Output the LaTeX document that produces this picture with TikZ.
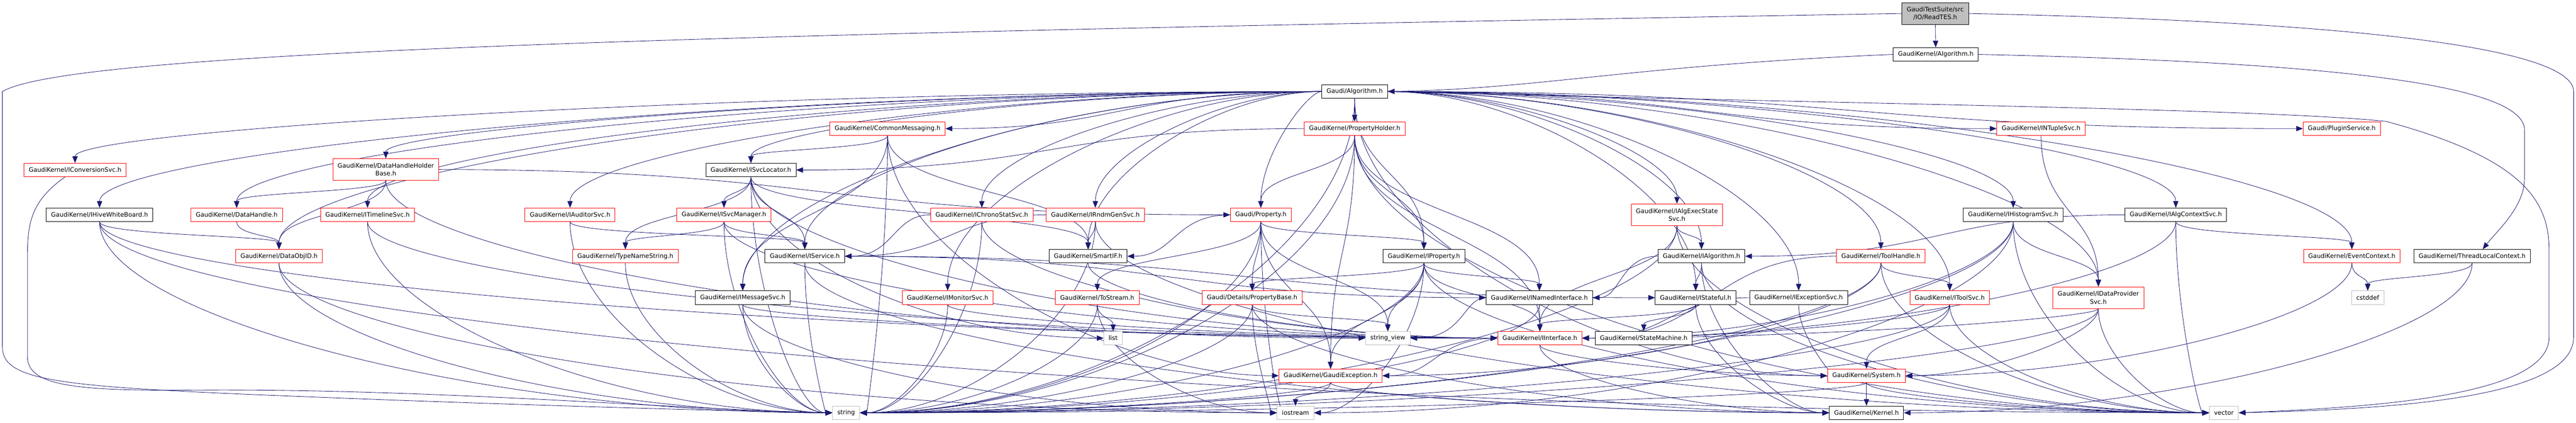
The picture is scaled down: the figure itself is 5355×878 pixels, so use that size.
\documentclass[tikz,border=0pt]{standalone}
\usepackage{fontspec}
\setmainfont{DejaVu Sans}
\usetikzlibrary{arrows.meta,calc}
\definecolor{eb}{HTML}{191970}
\definecolor{gbox}{HTML}{BFBFBF}
\pgfdeclarelayer{bg}
\pgfsetlayers{bg,main}
\newcommand\EV[2]{\draw[e] let \p1=(#1), \p2=(#2) in (#1) .. controls (\x1,{0.5*\y1+0.5*\y2}) and (\x2,{0.5*\y1+0.5*\y2}) .. (#2);}
\newcommand\EH[2]{\draw[e] let \p1=(#1), \p2=(#2) in (#1) .. controls ({0.5*\x1+0.5*\x2},\y1) and (\x2,{0.5*\y1+0.5*\y2}) .. (#2);}
\newcommand\EB[2]{\draw[e] let \p1=(#1), \p2=(#2) in (#1) .. controls (\x1,{0.5*\y1+0.5*\y2}) and ({0.5*\x1+0.5*\x2},\y2) .. (#2);}
\newcommand\ES[2]{\draw[e] let \p1=(#1), \p2=(#2) in (#1) .. controls ({0.5*\x1+0.5*\x2},\y1) and ({0.5*\x1+0.5*\x2},\y2) .. (#2);}
\begin{document}
\begin{tikzpicture}[x=1pt,y=-1pt,
  font=\fontsize{12.8pt}{16.7pt}\selectfont,
  box/.style={draw, line width=1pt, inner xsep=10pt, inner ysep=0pt, minimum height=28pt, fill=white, align=center},
  rbox/.style={box, draw=red},
  kbox/.style={box, draw=black},
  gbx/.style={box, draw=gbox},
  two/.style={minimum height=45pt},
  e/.style={draw=eb, line width=0.9pt, -{Triangle[length=14pt,width=11pt]}}]
\useasboundingbox (0,0) rectangle (5355,878);
% row 0-2
\node[kbox,two,fill=gbox] (A) at (4023,28) {GaudiTestSuite/src\\/IO/ReadTES.h};
\node[kbox] (B) at (4024,113) {GaudiKernel/Algorithm.h};
\node[kbox] (C) at (2816,190) {Gaudi/Algorithm.h};
% row 3
\node[rbox] (CM) at (1845,267) {GaudiKernel/CommonMessaging.h};
\node[rbox] (PH) at (2816,267) {GaudiKernel/PropertyHolder.h};
\node[rbox] (NT) at (4243,267) {GaudiKernel/INTupleSvc.h};
\node[rbox] (PS) at (4868,267) {Gaudi/PluginService.h};
% row 4
\node[rbox] (ICS) at (156,353) {GaudiKernel/IConversionSvc.h};
\node[rbox,two] (DHH) at (802,352) {GaudiKernel/DataHandleHolder\\Base.h};
\node[kbox] (SL) at (1561,353) {GaudiKernel/ISvcLocator.h};
% row 5
\node[kbox] (HWB) at (207,446) {GaudiKernel/IHiveWhiteBoard.h};
\node[rbox] (DH) at (492,446) {GaudiKernel/DataHandle.h};
\node[rbox] (TL) at (764,446) {GaudiKernel/ITimelineSvc.h};
\node[rbox] (AUD) at (1185,446) {GaudiKernel/IAuditorSvc.h};
\node[rbox] (SM) at (1505,446) {GaudiKernel/ISvcManager.h};
\node[rbox] (CS) at (2041,446) {GaudiKernel/IChronoStatSvc.h};
\node[rbox] (RG) at (2277,446) {GaudiKernel/IRndmGenSvc.h};
\node[rbox] (PR) at (2621,446) {Gaudi/Property.h};
\node[rbox,two] (AES) at (3486,446) {GaudiKernel/IAlgExecState\\Svc.h};
\node[kbox] (HS) at (4185,446) {GaudiKernel/IHistogramSvc.h};
\node[kbox] (ACS) at (4523,446) {GaudiKernel/IAlgContextSvc.h};
% row 6
\node[rbox] (DOI) at (580,532) {GaudiKernel/DataObjID.h};
\node[rbox] (TNS) at (1300,532) {GaudiKernel/TypeNameString.h};
\node[kbox] (SRV) at (1673,532) {GaudiKernel/IService.h};
\node[kbox] (SIF) at (2262,532) {GaudiKernel/SmartIF.h};
\node[kbox] (IP) at (2960,532) {GaudiKernel/IProperty.h};
\node[kbox] (IA) at (3537,532) {GaudiKernel/IAlgorithm.h};
\node[rbox] (TH) at (3910,532) {GaudiKernel/ToolHandle.h};
\node[rbox] (EC) at (4889,532) {GaudiKernel/EventContext.h};
\node[kbox] (TLC) at (5139,532) {GaudiKernel/ThreadLocalContext.h};
% row 7
\node[kbox] (MS) at (1544,618) {GaudiKernel/IMessageSvc.h};
\node[rbox] (MON) at (1970,618) {GaudiKernel/IMonitorSvc.h};
\node[rbox] (TS) at (2281,618) {GaudiKernel/ToStream.h};
\node[rbox] (PB) at (2603,618) {Gaudi/Details/PropertyBase.h};
\node[kbox] (NI) at (3200,618) {GaudiKernel/INamedInterface.h};
\node[kbox] (ST) at (3525,618) {GaudiKernel/IStateful.h};
\node[kbox] (ES) at (3739,618) {GaudiKernel/IExceptionSvc.h};
\node[rbox] (TSV) at (4053,618) {GaudiKernel/IToolSvc.h};
\node[rbox,two] (DP) at (4362,618) {GaudiKernel/IDataProvider\\Svc.h};
\node[gbx] (CSTD) at (4922,618) {cstddef};
% row 8
\node[gbx] (LST) at (2314,702) {list};
\node[gbx] (SV) at (2885,702) {string\_view};
\node[rbox] (II) at (3201,702) {GaudiKernel/IInterface.h};
\node[kbox] (SMC) at (3417,702) {GaudiKernel/StateMachine.h};
% row 9
\node[rbox] (GE) at (2766,780) {GaudiKernel/GaudiException.h};
\node[rbox] (SYS) at (3880,780) {GaudiKernel/System.h};
% row 10
\node[gbx] (STR) at (1759,857) {string};
\node[gbx] (IOS) at (2693,857) {iostream};
\node[kbox] (KER) at (3880,857) {GaudiKernel/Kernel.h};
\node[gbx] (VEC) at (4623,857) {vector};

\begin{pgfonlayer}{bg}
% custom long edges
\draw[e] (A) -- (B);
\draw[e] (A.west) .. controls (1500,70) and (150,105) .. (5,190) -- (5,720) .. controls (5,800) and (150,805) .. (800,830) .. controls (1300,848) and (1600,855) .. (STR.west);
\draw[e] (A.east) .. controls (4900,45) and (5350,100) .. (5350,190) -- (5350,700) .. controls (5350,830) and (4950,850) .. (VEC.east);
\draw[e] (B.west) .. controls (3400,135) and (3200,185) .. (C.east);
\draw[e] (B.east) .. controls (4800,128) and (5248,170) .. (5248,270) -- (5248,370) .. controls (5248,430) and (5190,480) .. ($(TLC.north)+(22,0)$);
\draw[e] (C.east) .. controls (3800,215) and (4700,225) .. (4960,252) .. controls (5250,330) and (5299,420) .. (5299,520) -- (5299,700) .. controls (5299,820) and (4950,845) .. (VEC.east);
\draw[e] (ICS) .. controls (60,420) and (57,470) .. (57,540) -- (57,740) .. controls (57,800) and (150,812) .. (400,810) .. controls (900,806) and (1400,850) .. (STR.west);
% Gaudi/Algorithm.h
\EV{C}{PH} \EV{C}{IP} \ES{C}{CM}
\EH{C}{ICS} \EH{C}{HWB} \EH{C}{DOI} \EH{C}{DH} \EH{C}{DHH} \EH{C}{TL}
\EH{C}{AUD} \EH{C}{SL} \EH{C}{SRV} \EH{C}{CS} \EH{C}{RG} \EH{C}{PR}
\EH{C}{MS} \EH{C}{MON} \EH{C}{SIF} \EB{C}{STR}
\EH{C}{AES} \EH{C}{IA} \EH{C}{ST} \EH{C}{ES} \EH{C}{TH} \EH{C}{TSV}
\EH{C}{HS} \EH{C}{DP} \EH{C}{ACS} \EH{C}{EC} \ES{C}{NT} \ES{C}{PS} \EB{C}{SYS}
% CommonMessaging
\EV{CM}{SL} \EV{CM}{MS} \EV{CM}{SIF} \EB{CM}{GE} \EB{CM}{STR}
% PropertyHolder
\EV{PH}{PR} \EV{PH}{IP} \EV{PH}{NI} \EV{PH}{II} \ES{PH}{SL} \EB{PH}{STR} \EB{PH}{VEC} \EV{PH}{GE}
% ISvcLocator
\EV{SL}{SM} \EV{SL}{TNS} \EV{SL}{SIF} \EB{SL}{STR} \EB{SL}{LST} \EB{SL}{II} \EV{SL}{SRV}
% ISvcManager, TypeNameString, IAuditorSvc
\EV{SM}{TNS} \EV{SM}{SRV} \EB{SM}{STR} \EB{SM}{II}
\EB{TNS}{STR}
\EV{AUD}{SRV} \EB{AUD}{STR}
% IService, IMessageSvc
\EB{SRV}{STR} \ES{SRV}{NI} \ES{SRV}{ST} \EB{SRV}{KER}
\EB{MS}{STR} \EB{MS}{IOS} \EB{MS}{II}
% IChronoStatSvc, IRndmGenSvc, IMonitorSvc, SmartIF
\ES{CS}{SRV} \EB{CS}{STR} \EB{CS}{II}
\EV{RG}{SIF} \ES{RG}{SRV} \EB{RG}{STR} \EB{RG}{VEC}
\EB{MON}{STR} \EB{MON}{II}
\EB{SIF}{II}
% Property
\EV{PR}{PB} \EV{PR}{TS} \EV{PR}{IP} \ES{PR}{SIF} \EV{PR}{SV} \EB{PR}{STR} \EB{PR}{IOS} \EV{PR}{GE}
% ToStream, PropertyBase
\EV{TS}{LST} \EB{TS}{STR} \EB{TS}{IOS}
\EB{PB}{STR} \EB{PB}{IOS} \EV{PB}{SV} \EB{PB}{KER}
% IProperty
\EV{IP}{PB} \EV{IP}{NI} \EV{IP}{II} \EV{IP}{SV} \EV{IP}{GE} \EB{IP}{IOS} \EB{IP}{STR} \EB{IP}{VEC}
% INamedInterface, IInterface
\EV{NI}{II} \EB{NI}{STR} \ES{NI}{SV}
\EB{II}{SYS} \EB{II}{KER} \ES{II}{GE}
% IAlgExecStateSvc, IAlgorithm, IStateful, IExceptionSvc
\EV{AES}{IA} \EV{AES}{II} \EB{AES}{VEC} \EB{AES}{STR}
\EV{IA}{ST} \ES{IA}{NI} \EB{IA}{KER} \EB{IA}{VEC}
\EV{ST}{SMC} \EV{ST}{II} \EB{ST}{KER}
\ES{ES}{II} \EB{ES}{SYS}
% ToolHandle, IToolSvc
\EV{TH}{TSV} \ES{TH}{II} \EB{TH}{GE} \EB{TH}{STR} \EB{TH}{VEC}
\EV{TSV}{SYS} \EB{TSV}{II} \EB{TSV}{STR} \EB{TSV}{VEC}
% INTupleSvc, IHistogramSvc, IDataProviderSvc
\EV{NT}{DP}
\EV{HS}{DP} \EB{HS}{II} \EB{HS}{IOS} \EB{HS}{VEC} \EB{HS}{STR}
\EB{DP}{II} \EB{DP}{STR} \EB{DP}{VEC} \EB{DP}{SYS}
% IAlgContextSvc, EventContext, ThreadLocalContext
\EV{ACS}{EC} \ES{ACS}{IA} \EB{ACS}{VEC} \EB{ACS}{II}
\EV{EC}{CSTD} \EB{EC}{SYS}
\EV{TLC}{CSTD} \EB{TLC}{KER}
% System, GaudiException
\EV{SYS}{KER} \EB{SYS}{STR} \EB{SYS}{VEC}
\EV{GE}{IOS} \EB{GE}{STR} \EB{GE}{KER}
% data handles
\EB{DOI}{STR} \EB{DOI}{IOS}
\EV{DH}{DOI}
\EV{DHH}{DH} \EV{DHH}{DOI} \ES{DHH}{PR} \EB{DHH}{SV}
\EB{TL}{STR} \EB{TL}{II}
\EV{HWB}{DOI} \EB{HWB}{STR} \EB{HWB}{II} \EB{HWB}{VEC}
\end{pgfonlayer}
\end{tikzpicture}
\end{document}
